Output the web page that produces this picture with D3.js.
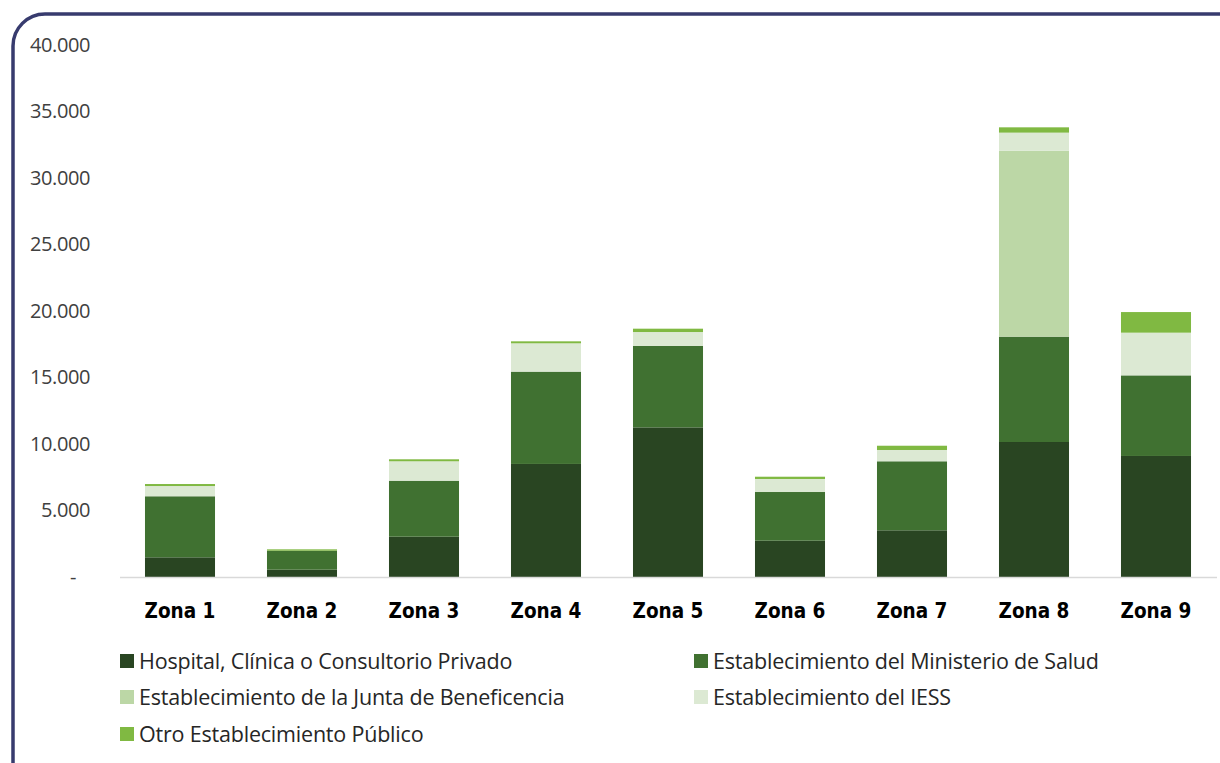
<!DOCTYPE html>
<html>
<head>
<meta charset="utf-8">
<script src="https://cdn.jsdelivr.net/npm/d3@7"></script>
<style>
  body { margin: 0; background: #fff; }
  svg { display: block; }
</style>
</head>
<body>
<svg id="chart" width="1220" height="763"></svg>
<script>
const zonas = ['Zona 1', 'Zona 2', 'Zona 3', 'Zona 4', 'Zona 5', 'Zona 6', 'Zona 7', 'Zona 8', 'Zona 9']
const privado = [1480, 550, 3030, 8500, 11250, 2730, 3510, 10150, 9100]
const ministerio = [4590, 1430, 4210, 6940, 6120, 3660, 5190, 7920, 6060]
const junta = [0, 0, 0, 0, 0, 0, 0, 13980, 0]
const iess = [770, 0, 1460, 2130, 1050, 980, 850, 1360, 3210]
const otro = [150, 100, 150, 150, 250, 170, 320, 400, 1550]
const seriesNames = [
  'Hospital, Clínica o Consultorio Privado',
  'Establecimiento del Ministerio de Salud',
  'Establecimiento de la Junta de Beneficencia',
  'Establecimiento del IESS',
  'Otro Establecimiento Público'
]
const yTicks = [0, 5000, 10000, 15000, 20000, 25000, 30000, 35000, 40000]
const colors = ['#294522', '#407131', '#bcd7a6', '#dce9d3', '#80b942']

const svg = d3.select('#chart')

// frame
svg.append('rect')
  .attr('x', 13).attr('y', 14)
  .attr('width', 1240).attr('height', 780)
  .attr('rx', 32).attr('ry', 32)
  .attr('fill', 'none')
  .attr('stroke', '#373b6e')
  .attr('stroke-width', 3.5)

const keys = ['privado', 'ministerio', 'junta', 'iess', 'otro']
const rows = zonas.map((z, i) => ({
  zona: z,
  privado: privado[i],
  ministerio: ministerio[i],
  junta: junta[i],
  iess: iess[i],
  otro: otro[i]
}))

const x = d3.scaleBand().domain(zonas).range([119, 1217]).paddingInner(0.426).paddingOuter(0.213)
const y = d3.scaleLinear().domain([0, 40000]).range([577, 45])

const stack = d3.stack().keys(keys)(rows)

svg.append('g')
  .selectAll('g')
  .data(stack)
  .enter().append('g')
  .attr('fill', (d, i) => colors[i])
  .selectAll('rect')
  .data(d => d)
  .enter().append('rect')
  .attr('x', d => x(d.data.zona))
  .attr('width', x.bandwidth())
  .attr('y', d => y(d[1]))
  .attr('height', d => Math.max(0, y(d[0]) - y(d[1])))

// baseline
svg.append('line')
  .attr('x1', 120).attr('x2', 1217)
  .attr('y1', y(0) + 0.5).attr('y2', y(0) + 0.5)
  .attr('stroke', '#d9d9d9').attr('stroke-width', 1.5)

// y axis labels
const fmt = v => v === 0 ? '-' : d3.format(',')(v).replace(/,/g, '.')
const yAxis = d3.axisLeft(y).tickValues(yTicks).tickFormat(fmt).tickSize(0).tickPadding(0)
const gy = svg.append('g').attr('transform', 'translate(90,0)').call(yAxis)
gy.select('.domain').remove()
gy.selectAll('text')
  .attr('font-family', '"Open Sans", "Noto Sans", sans-serif')
  .attr('font-size', 20)
  .attr('fill', '#404040')
  .attr('letter-spacing', -0.4)
gy.selectAll('.tick')
  .filter(d => d === 0)
  .select('text')
  .attr('dx', -14)

// x axis labels
const xAxis = d3.axisBottom(x).tickSize(0).tickPadding(0)
const gx = svg.append('g').attr('transform', 'translate(0,' + 603 + ')').call(xAxis)
gx.select('.domain').remove()
gx.selectAll('text')
  .attr('font-family', '"DejaVu Sans Condensed", "Liberation Sans Narrow", sans-serif')
  .attr('font-size', 20.5)
  .attr('font-weight', 'bold')
  .attr('fill', '#000')

// legend
const legendPos = [
  [120, 661], [694, 661],
  [120, 697], [694, 697],
  [120, 734]
]
const legend = svg.append('g')
  .selectAll('g')
  .data(seriesNames)
  .enter().append('g')
  .attr('transform', (d, i) => 'translate(' + legendPos[i][0] + ',' + legendPos[i][1] + ')')
legend.append('rect')
  .attr('x', 0).attr('y', -7)
  .attr('width', 14).attr('height', 14)
  .attr('fill', (d, i) => colors[i])
legend.append('text')
  .attr('x', 19).attr('y', 0)
  .attr('dy', '0.35em')
  .attr('font-family', '"Open Sans", "Noto Sans", sans-serif')
  .attr('font-size', 21.5)
  .attr('letter-spacing', -0.2)
  .attr('fill', '#262626')
  .text(d => d)
</script>
</body>
</html>
